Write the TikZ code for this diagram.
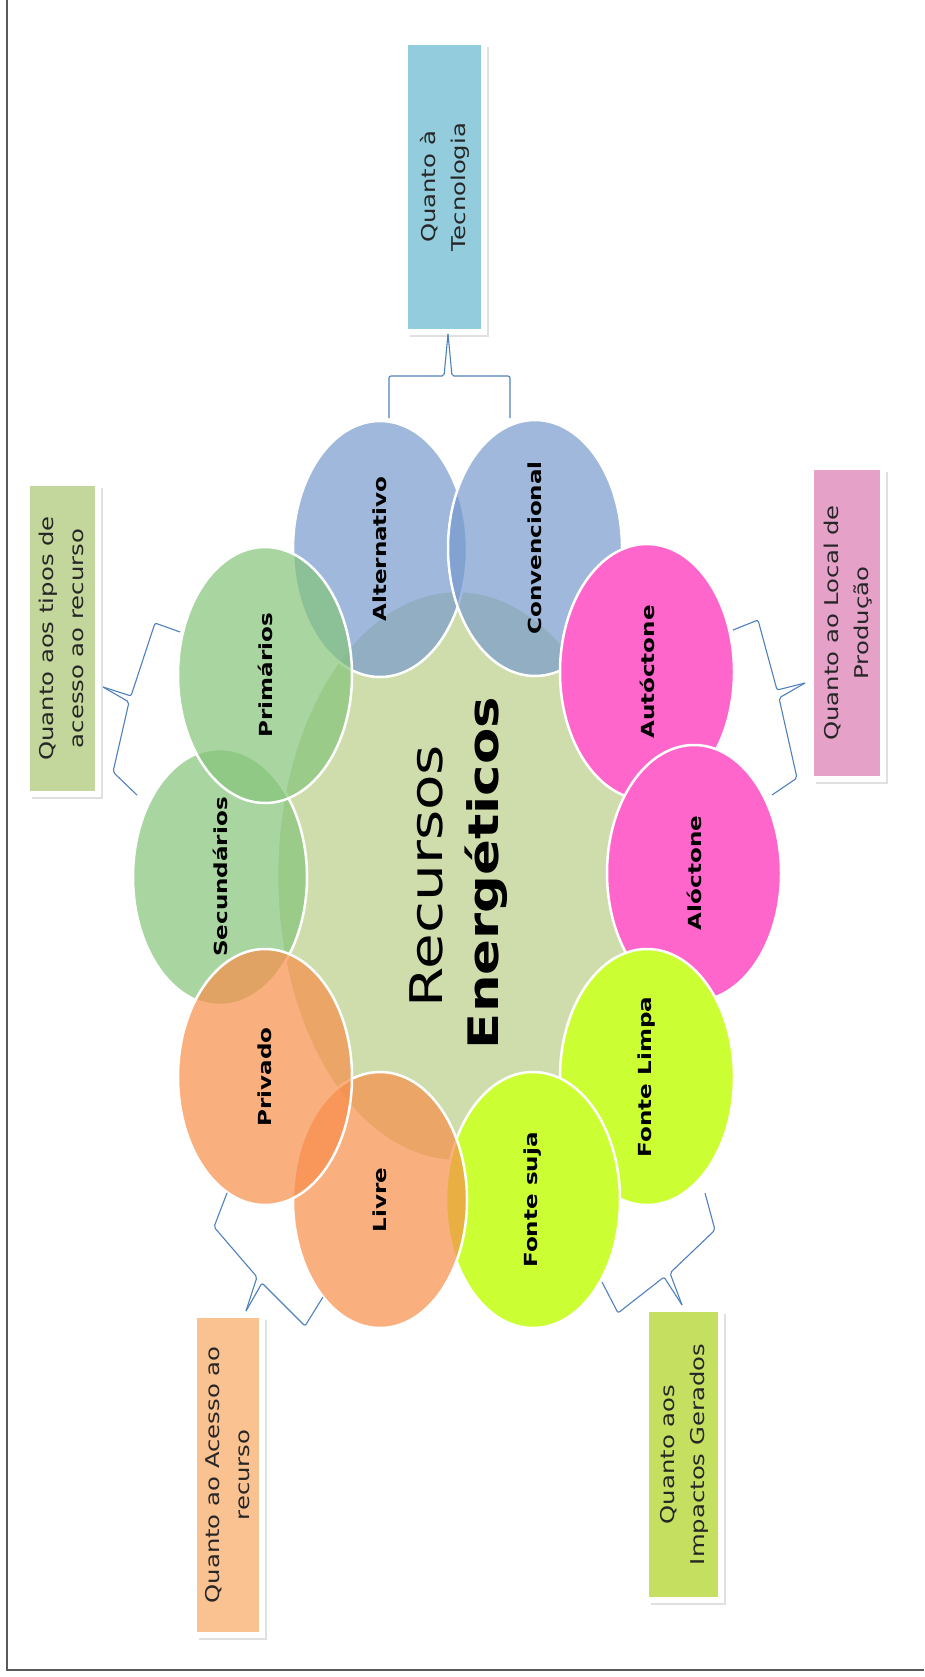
\documentclass[tikz,border=0pt]{standalone}
\usepackage{fontspec}
\setmainfont{DejaVu Sans}
\usepackage{graphicx}
\usetikzlibrary{shapes.geometric,shadows}
\definecolor{cenfill}{RGB}{207,221,173}
\definecolor{ellgreen}{RGB}{133,196,122}
\definecolor{ellblue}{RGB}{119,155,205}
\definecolor{ellpink}{RGB}{255,102,204}
\definecolor{elllime}{RGB}{204,255,51}
\definecolor{ellorange}{RGB}{248,142,74}
\definecolor{boxblue}{RGB}{147,205,221}
\definecolor{boxgreen}{RGB}{195,214,155}
\definecolor{boxpink}{RGB}{230,161,201}
\definecolor{boxorange}{RGB}{250,193,145}
\definecolor{boxlime}{RGB}{197,224,96}
\definecolor{bracecol}{RGB}{79,129,189}
\definecolor{framecol}{RGB}{90,90,90}
\newcommand{\elab}[1]{\rotatebox{90}{\scalebox{1.28}[1]{\fontsize{18}{22}\selectfont\bfseries #1}}}
\newcommand{\btxt}[1]{\rotatebox{90}{\scalebox{1.28}[1]{\fontsize{19}{30}\selectfont\begin{tabular}{@{}c@{}}#1\end{tabular}}}}
\tikzset{
  bub/.style={ellipse, draw=white, line width=2.5pt, minimum width=174pt, minimum height=256pt, inner sep=0pt, text=black, text opacity=1},
  trans/.style={fill opacity=0.7},
  qbox/.style={rectangle, draw=white, line width=6pt, inner sep=0pt, text=black!85,
    drop shadow={shadow xshift=5pt, shadow yshift=-5pt, opacity=0.2, fill=black!60}},
  brace/.style={draw=bracecol, line width=1.1pt, rounded corners=2pt}
}
\begin{document}
\begin{tikzpicture}[x=1pt,y=-1pt]
\useasboundingbox (0,0) rectangle (924,1677);
\fill[white] (0,0) rectangle (924,1677);
\draw[framecol, line width=2pt] (7,0) -- (7,1670) -- (924,1670);

% central ellipse
\node[bub, fill=cenfill, minimum width=360pt, minimum height=570pt] (cen) at (457,876) {};

% outer ellipses
\node[bub, trans, fill=ellblue] (alt) at (380,549) {\elab{Alternativo}};
\node[bub, trans, fill=ellblue] (conv) at (535,548) {\elab{Convencional}};
\node[bub, fill=ellpink] (auto) at (647,672) {\elab{Autóctone}};
\node[bub, fill=ellpink] (alo) at (694,873) {\elab{Alóctone}};
\node[bub, fill=elllime] (limpa) at (647,1077) {\elab{Fonte Limpa}};
\node[bub, fill=elllime] (suja) at (533,1200) {\elab{Fonte suja}};
\node[bub, trans, fill=ellorange] (livre) at (380,1200) {\elab{Livre}};
\node[bub, trans, fill=ellgreen] (sec) at (220,877) {\elab{Secundários}};
\node[bub, trans, fill=ellorange] (priv) at (265,1077) {\elab{Privado}};
\node[bub, trans, fill=ellgreen] (prim) at (265,675) {\elab{Primários}};

% centre text
\node[rotate=90, anchor=base, inner sep=0pt] (rec) at (442,876)
  {\fontsize{45}{54}\selectfont\scalebox{1.29}[1]{Recursos}};
\node[rotate=90, anchor=base, inner sep=0pt] (ene) at (498,873)
  {\fontsize{42}{50}\selectfont\bfseries\scalebox{1.26}[1]{Energéticos}};

% category boxes
\node[qbox, fill=boxblue, minimum width=79pt, minimum height=290pt] (tec) at (444.5,187)
  {\btxt{Quanto à\\Tecnologia}};
\node[qbox, fill=boxgreen, minimum width=71pt, minimum height=311pt] (tipos) at (62.5,638.5)
  {\btxt{Quanto aos tipos de\\acesso ao recurso}};
\node[qbox, fill=boxpink, minimum width=72pt, minimum height=312pt] (local) at (847,623)
  {\btxt{Quanto ao Local de\\Produção}};
\node[qbox, fill=boxorange, minimum width=68pt, minimum height=320pt] (acesso) at (228,1475)
  {\btxt{Quanto ao Acesso ao\\recurso}};
\node[qbox, fill=boxlime, minimum width=75pt, minimum height=291pt] (impactos) at (683.5,1454.5)
  {\btxt{Quanto aos\\Impactos Gerados}};

% brace end points
\coordinate (tA) at (389,418);
\coordinate (tB) at (510,418);
\coordinate (tT) at (448,334);
\coordinate (lA) at (180,632);
\coordinate (lB) at (137,795);
\coordinate (lT) at (103,687);
\coordinate (rA) at (733,630);
\coordinate (rB) at (772,795);
\coordinate (rT) at (805,683);
\coordinate (blA) at (227,1193);
\coordinate (blB) at (323,1297);
\coordinate (blT) at (246,1311);
\coordinate (brA) at (705,1193);
\coordinate (brB) at (602,1282);
\coordinate (brT) at (682,1305);

% braces
\draw[brace] (tA) -- (389,376) -- (444,376) -- (tT);
\draw[brace] (tT) -- (452,376) -- (510,376) -- (tB);
\draw[brace] (lA) -- (155,623) -- (131,696) -- (lT);
\draw[brace] (lT) -- (129,702) -- (113,772) -- (lB);
\draw[brace] (rA) -- (758,620) -- (777,690) -- (rT);
\draw[brace] (rT) -- (779,698) -- (797,778) -- (rB);
\draw[brace] (blA) -- (214,1227) -- (257,1277) -- (blT);
\draw[brace] (blT) -- (262,1283) -- (305,1326) -- (blB);
\draw[brace] (brA) -- (715,1230) -- (670,1273) -- (brT);
\draw[brace] (brT) -- (664,1277) -- (618,1313) -- (brB);
\end{tikzpicture}
\end{document}
